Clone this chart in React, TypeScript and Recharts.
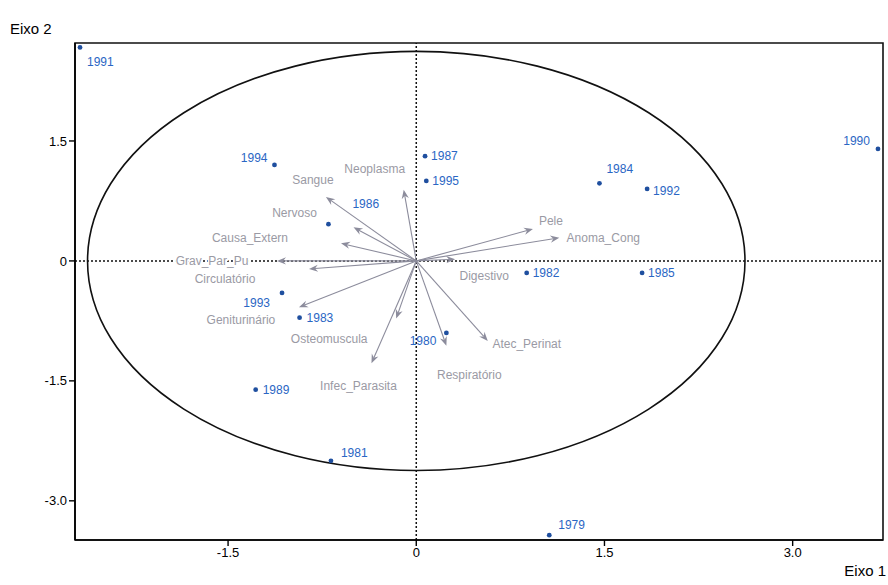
import React from 'react';
import { ScatterChart, Scatter, XAxis, YAxis, ReferenceLine, ReferenceArea } from 'recharts';

// Years (row scores) on the first two axes
const years = ['1979', '1980', '1981', '1982', '1983', '1984', '1985', '1986', '1987', '1989', '1990', '1991', '1992', '1993', '1994', '1995'];
const yearAxis1 = [1.06, 0.24, -0.68, 0.88, -0.93, 1.46, 1.8, -0.7, 0.07, -1.28, 3.68, -2.68, 1.84, -1.07, -1.13, 0.08];
const yearAxis2 = [-3.43, -0.9, -2.5, -0.15, -0.71, 0.97, -0.15, 0.46, 1.31, -1.61, 1.4, 2.67, 0.9, -0.4, 1.2, 1.0];

// Cause-of-death groups (variable loadings)
const causes = ['Sangue', 'Neoplasma', 'Nervoso', 'Causa_Extern', 'Grav_Par_Pu', 'Circulatório', 'Geniturinário', 'Osteomuscula', 'Infec_Parasita', 'Respiratório', 'Atec_Perinat', 'Digestivo', 'Pele', 'Anoma_Cong'];
const causeAxis1 = [-0.72, -0.1, -0.5, -0.6, -1.11, -0.855, -0.935, -0.16, -0.357, 0.24, 0.57, 0.31, 0.93, 1.14];
const causeAxis2 = [0.8, 0.89, 0.42, 0.22, 0.0, -0.1, -0.58, -0.72, -1.28, -1.06, -1.0, 0.02, 0.4, 0.29];

const circleRadius = 2.62;
const xDomain: [number, number] = [-2.72, 3.72];
const yDomain: [number, number] = [-3.49, 2.725];
const xTicks = [-1.5, 0, 1.5, 3.0];
const yTicks = [-3.0, -1.5, 0, 1.5];

// label placement, in pixels from the marker
const yearLabelPos: Record<string, [number, number, 'start' | 'end']> = {
  '1979': [9, -10, 'start'],
  '1980': [-10, 8, 'end'],
  '1981': [10, -8, 'start'],
  '1982': [6, 0, 'start'],
  '1983': [7, 0, 'start'],
  '1984': [7, -14, 'start'],
  '1985': [6, 0, 'start'],
  '1986': [24, -20, 'start'],
  '1987': [6, 0, 'start'],
  '1989': [7, 0, 'start'],
  '1990': [-8, -8, 'end'],
  '1991': [7, 15, 'start'],
  '1992': [6, 2, 'start'],
  '1993': [-12, 10, 'end'],
  '1994': [-7, -7, 'end'],
  '1995': [6, 0, 'start'],
};

const causeLabelPos: Record<string, [number, number]> = {
  Sangue: [-13, -17],
  Neoplasma: [-29, -21],
  Nervoso: [-59, -14],
  Causa_Extern: [-91, -5],
  Grav_Par_Pu: [-65, 0],
  'Circulatório': [-84, 10],
  'Geniturinário': [-58, 13],
  Osteomuscula: [-67, 21],
  Infec_Parasita: [-13, 23],
  'Respiratório': [23, 29],
  Atec_Perinat: [39, 3],
  Digestivo: [29, 17],
  Pele: [18, -8],
  Anoma_Cong: [44, 0],
};

const FONT = '"Liberation Sans", Arial, sans-serif';
const ARROW = '#8c8c9c';
const ARROW_TEXT = '#9a9aa4';
const DOT = '#1f4f9f';
const DOT_TEXT = '#2a66c4';

const yearData = years.map((year, i) => ({ year, x: yearAxis1[i], y: yearAxis2[i] }));

const fmt = (v: number) => (v === 0 ? '0' : v.toFixed(1));

const YearPoint = (props: any) => {
  const { cx, cy, payload } = props;
  const [dx, dy, anchor] = yearLabelPos[payload.year] || [6, 0, 'start'];
  return (
    <g>
      <circle cx={cx} cy={cy} r={2.4} fill={DOT} />
      <text x={cx + dx} y={cy + dy + 4} textAnchor={anchor} fontSize={12} fontFamily={FONT} fill={DOT_TEXT}>
        {payload.year}
      </text>
    </g>
  );
};

const makeArrow = (name: string) => (props: any) => {
  const { x1, y1, x2, y2 } = props;
  const ang = Math.atan2(y2 - y1, x2 - x1);
  const c = Math.cos(ang);
  const s = Math.sin(ang);
  const len = 9;
  const half = 3.6;
  const bx = x2 - len * c;
  const by = y2 - len * s;
  const nx = x2 - (len - 3) * c;
  const ny = y2 - (len - 3) * s;
  const [dx, dy] = causeLabelPos[name] || [0, 0];
  return (
    <g>
      <line x1={x1} y1={y1} x2={nx} y2={ny} stroke={ARROW} strokeWidth={1.1} />
      <polygon
        points={`${x2},${y2} ${bx + half * s},${by - half * c} ${nx},${ny} ${bx - half * s},${by + half * c}`}
        fill={ARROW}
      />
      <text
        x={x2 + dx}
        y={y2 + dy + 4}
        textAnchor="middle"
        fontSize={12}
        fontFamily={FONT}
        fill={ARROW_TEXT}
        stroke="#fff"
        strokeWidth={3}
        paintOrder="stroke"
      >
        {name}
      </text>
    </g>
  );
};

const EllipseShape = (props: any) => {
  const { x, y, width, height } = props;
  return (
    <ellipse
      cx={x + width / 2}
      cy={y + height / 2}
      rx={Math.abs(width) / 2}
      ry={Math.abs(height) / 2}
      fill="none"
      stroke="#111"
      strokeWidth={1.6}
    />
  );
};

export default function App() {
  return (
    <div style={{ position: 'absolute', left: 0, top: 0, width: 888, height: 585, background: '#fff', fontFamily: FONT }}>
      <ScatterChart width={888} height={585} margin={{ top: 43, right: 5, bottom: 15, left: 0 }}>
        <XAxis
          type="number"
          dataKey="x"
          domain={xDomain}
          ticks={xTicks}
          tickFormatter={fmt}
          allowDataOverflow
          height={30}
          axisLine={{ stroke: '#000', strokeWidth: 1.6 }}
          tickLine={{ stroke: '#000', strokeWidth: 1.4 }}
          tickSize={6}
          tick={{ fill: '#000', fontSize: 13, fontFamily: FONT }}
        />
        <YAxis
          type="number"
          dataKey="y"
          domain={yDomain}
          ticks={yTicks}
          tickFormatter={fmt}
          allowDataOverflow
          width={75}
          axisLine={{ stroke: '#000', strokeWidth: 1.6 }}
          tickLine={{ stroke: '#000', strokeWidth: 1.4 }}
          tickSize={6}
          tick={{ fill: '#000', fontSize: 13, fontFamily: FONT }}
        />
        <ReferenceArea
          x1={xDomain[0]}
          x2={xDomain[1]}
          y1={yDomain[0]}
          y2={yDomain[1]}
          ifOverflow="visible"
          fill="none"
          fillOpacity={0}
          stroke="#111"
          strokeWidth={1.6}
        />
        <ReferenceLine x={0} stroke="#111" strokeWidth={1.5} strokeDasharray="2 2" />
        <ReferenceLine y={0} stroke="#111" strokeWidth={1.5} strokeDasharray="2 2" />
        <ReferenceArea
          x1={-circleRadius}
          x2={circleRadius}
          y1={-circleRadius}
          y2={circleRadius}
          shape={EllipseShape}
        />
        {causes.map((name, i) => (
          <ReferenceLine
            key={name}
            segment={[
              { x: 0, y: 0 },
              { x: causeAxis1[i], y: causeAxis2[i] },
            ]}
            shape={makeArrow(name)}
          />
        ))}
        <Scatter data={yearData} shape={YearPoint} isAnimationActive={false} />
      </ScatterChart>
      <div style={{ position: 'absolute', left: 10, top: 20, fontSize: 15, color: '#000' }}>Eixo 2</div>
      <div style={{ position: 'absolute', right: 2, top: 562, fontSize: 15, color: '#000' }}>Eixo 1</div>
    </div>
  );
}
